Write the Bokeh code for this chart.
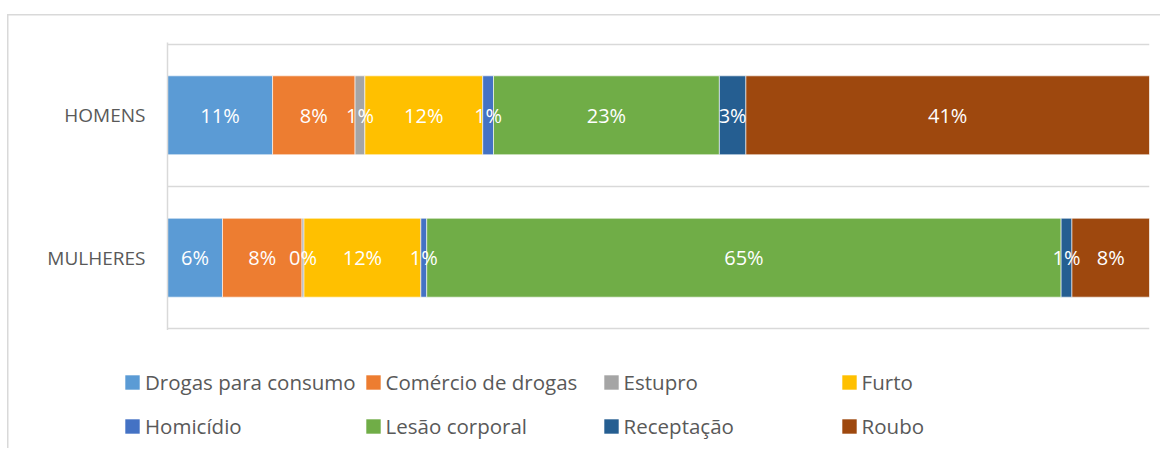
from bokeh.plotting import figure
from bokeh.layouts import column
from bokeh.models import (FactorRange, Range1d, ColumnDataSource, LabelSet, Legend,
                          LegendItem, FixedTicker)
from bokeh.core.properties import value
from bokeh.embed import file_html
from bokeh.resources import INLINE
import numpy as np

categories = ["MULHERES", "HOMENS"]
crimes = ["Drogas para consumo", "Comércio de drogas", "Estupro", "Furto",
          "Homicídio", "Lesão corporal", "Receptação", "Roubo"]
homens = [10.7, 8.4, 1.0, 12.0, 1.1, 23.0, 2.7, 41.1]
mulheres = [5.6, 8.1, 0.2, 11.9, 0.6, 64.6, 1.1, 7.9]
colors = ["#5B9BD5", "#ED7D31", "#A5A5A5", "#FFC000",
          "#4472C4", "#70AD47", "#255E91", "#9E480E"]

series = {"MULHERES": mulheres, "HOMENS": homens}
keys = [f"s{i}" for i in range(len(crimes))]
data = {"cat": categories}
for i, k in enumerate(keys):
    data[k] = [series[c][i] for c in categories]
source = ColumnDataSource(data)

FONT = "Open Sans"
GRAY = "#595959"
LINE = "#d9d9d9"
W = 1160

p = figure(width=W, height=330,
           y_range=FactorRange(factors=categories, range_padding=0.011),
           x_range=Range1d(0, 100), x_axis_location=None,
           output_backend="svg", toolbar_location=None,
           min_border_left=167, min_border_right=11,
           min_border_top=42, min_border_bottom=0)
p.frame_align = False
p.outline_line_color = None
p.background_fill_color = "white"
p.border_fill_color = None
p.xgrid.visible = False

renderers = p.hbar_stack(keys, y="cat", height=0.554, color=colors,
                         line_color="white", line_width=0.6, source=source)

# data labels
lx, ly, lt = [], [], []
for c in categories:
    vals = series[c]
    cum = np.cumsum([0.0] + vals)
    for i, v in enumerate(vals):
        lx.append((cum[i] + cum[i + 1]) / 2)
        ly.append(c)
        lt.append(f"{int(v + 0.5)}%")
lsrc = ColumnDataSource(dict(x=lx, y=ly, t=lt))
labels = LabelSet(x="x", y="y", text="t", source=lsrc, text_color="white",
                  text_font=value(FONT), text_font_size="20px",
                  text_align="center", text_baseline="middle")
p.add_layout(labels)

# axes / grid
p.ygrid.ticker = FixedTicker(ticks=[0, 1, 2])
p.ygrid.grid_line_color = LINE
p.ygrid.grid_line_width = 1.5
yax = p.yaxis[0]
yax.axis_line_color = LINE
yax.axis_line_width = 1.5
yax.major_tick_line_color = None
yax.minor_tick_line_color = None
yax.major_tick_in = 0
yax.major_tick_out = 0
yax.major_label_standoff = 22
yax.major_label_text_font = FONT
yax.major_label_text_font_size = "19px"
yax.major_label_text_color = GRAY

# legend in its own strip below the chart (zero-height bars only feed the swatches)
lf = figure(width=W, height=118, x_axis_location=None, y_axis_location=None,
            y_range=FactorRange(factors=categories), x_range=Range1d(0, 100),
            output_backend="svg", toolbar_location=None, min_border=0)
lf.frame_align = False
lf.outline_line_color = None
lf.background_fill_color = None
lf.border_fill_color = None
lf.xgrid.visible = False
lf.ygrid.visible = False
swatches = lf.hbar_stack(keys, y="cat", height=0, color=colors,
                         line_color=None, source=source)
items = [LegendItem(label=c, renderers=[r]) for c, r in zip(crimes, swatches)]
legend = Legend(items=items, orientation="horizontal", ncols=4,
                location=(123, 4), glyph_width=18, glyph_height=18,
                label_standoff=4, label_width=208, label_height=36,
                spacing=8, padding=0, margin=0,
                border_line_color=None, background_fill_alpha=0,
                label_text_font=FONT, label_text_font_size="20.5px",
                label_text_color=GRAY)
lf.add_layout(legend, "center")

layout = column(p, lf, spacing=0)
layout.styles = {"box-shadow": "inset 7px 14px 0 0 white, inset 8.5px 15.5px 0 0 " + LINE}

open("out.html", "w").write(file_html(layout, INLINE))
